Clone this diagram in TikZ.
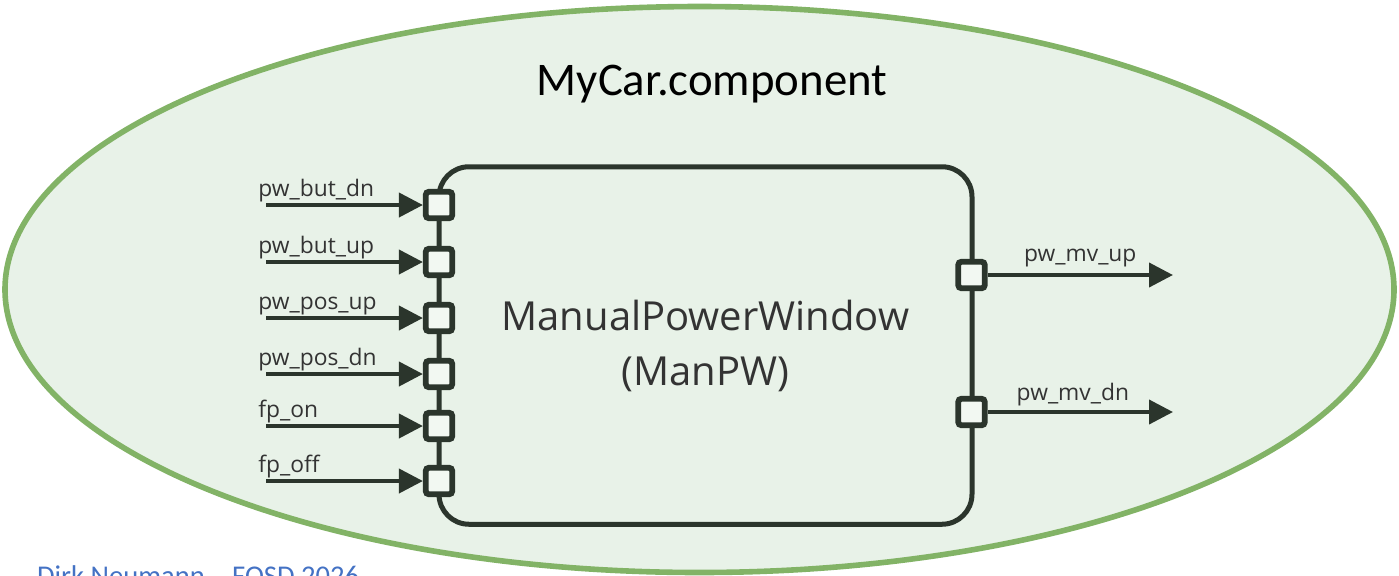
\documentclass[tikz,border=0pt]{standalone}
\usepackage{fontspec}
\setmainfont{Open Sans}
\newfontfamily\calibri{Carlito}
\usetikzlibrary{shapes.geometric, arrows.meta, positioning}
\definecolor{carfill}{HTML}{E8F2E8}
\definecolor{carline}{HTML}{82B366}
\definecolor{pwdark}{HTML}{2B352C}
\definecolor{portfill}{HTML}{F2F8F2}
\definecolor{footblue}{HTML}{4472C4}
\tikzset{
    block/.style={rectangle, rounded corners=15pt, draw=pwdark, line width=2.5pt, minimum width=266.5pt, minimum height=178.75pt, align=center, text=black!80, font=\fontsize{20}{27.5}\selectfont},
    port/.style={rectangle, rounded corners=1.5pt, draw=pwdark, fill=portfill, line width=2.9pt, minimum size=13.2pt, inner sep=0pt},
    arrow/.style={draw=pwdark, line width=2pt, -{Triangle[length=12pt, width=12pt]}},
    signal/.style={inner sep=0pt, text=black!80, font=\fontsize{11.4}{13}\selectfont}
}

\begin{document}
\begin{tikzpicture}[x=0.5pt, y=-0.5pt]
    \useasboundingbox (0,0) rectangle (1399,575);
    \node (mycar) [ellipse, draw=carline, fill=carfill, line width=2.8pt, minimum width=694.5pt, minimum height=283pt, inner sep=0pt] at (699.5,289.5) {};
    \node (title) [anchor=base, font=\calibri\fontsize{23.4}{28}\selectfont] at (712,95) {MyCar.component};
    \node (footer) [anchor=base west, text=footblue, font=\calibri\fontsize{14.3}{17}\selectfont] at (30,585) {Dirk Neumann – FOSD 2026};

    \node (manpw) [block] at (705.5,345.5) {ManualPowerWindow\\(ManPW)};

    % inputs
    \node (p_but_dn) [port] at (439,205) {};
    \node (p_but_up) [port] at (439,262) {};
    \node (p_pos_up) [port] at (439,318) {};
    \node (p_pos_dn) [port] at (439,374) {};
    \node (p_fp_on) [port] at (439,426) {};
    \node (p_fp_off) [port] at (439,481) {};

    \coordinate (in_but_dn) at (266,205);
    \coordinate (in_but_up) at (266,262);
    \coordinate (in_pos_up) at (266,318);
    \coordinate (in_pos_dn) at (266,374);
    \coordinate (in_fp_on) at (266,426);
    \coordinate (in_fp_off) at (266,481);

    \draw [arrow] (in_but_dn) -- (p_but_dn);
    \draw [arrow] (in_but_up) -- (p_but_up);
    \draw [arrow] (in_pos_up) -- (p_pos_up);
    \draw [arrow] (in_pos_dn) -- (p_pos_dn);
    \draw [arrow] (in_fp_on) -- (p_fp_on);
    \draw [arrow] (in_fp_off) -- (p_fp_off);

    \node (l_but_dn) [signal, above right=1.25pt and -4pt of in_but_dn] {pw\_but\_dn};
    \node (l_but_up) [signal, above right=1.25pt and -4pt of in_but_up] {pw\_but\_up};
    \node (l_pos_up) [signal, above right=1.25pt and -4pt of in_pos_up] {pw\_pos\_up};
    \node (l_pos_dn) [signal, above right=1.25pt and -4pt of in_pos_dn] {pw\_pos\_dn};
    \node (l_fp_on) [signal, above right=1.25pt and -4pt of in_fp_on] {fp\_on};
    \node (l_fp_off) [signal, above right=1.25pt and -4pt of in_fp_off] {fp\_off};

    % outputs
    \node (p_mv_up) [port] at (971.5,275) {};
    \node (p_mv_dn) [port] at (971.5,412) {};
    \coordinate (out_mv_up) at (1173,275);
    \coordinate (out_mv_dn) at (1173,412);

    \draw [arrow] (p_mv_up) -- node (l_mv_up) [signal, above=3pt] {pw\_mv\_up} (out_mv_up);
    \draw [arrow] (p_mv_dn) -- node (l_mv_dn) [signal, above=2.25pt, pos=0.46] {pw\_mv\_dn} (out_mv_dn);
\end{tikzpicture}
\end{document}
